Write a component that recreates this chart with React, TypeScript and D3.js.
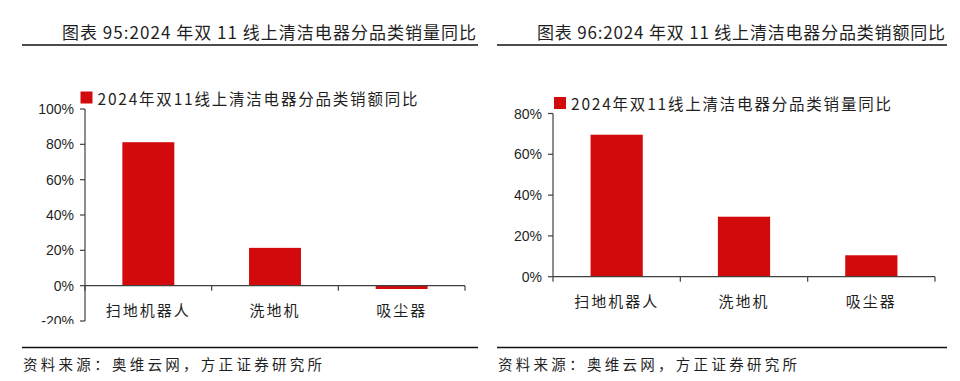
import React from "react";
import * as d3 from "d3";

const categories = ["扫地机器人", "洗地机", "吸尘器"];
const leftValues = [81.2, 21.4, -1.9];
const rightValues = [69.6, 29.4, 10.5];
const leftTicks = [-20, 0, 20, 40, 60, 80, 100];
const rightTicks = [0, 20, 40, 60, 80];
const leftTitle = "图表 95:2024 年双 11 线上清洁电器分品类销量同比";
const rightTitle = "图表 96:2024 年双 11 线上清洁电器分品类销额同比";
const leftLegend = "2024年双11线上清洁电器分品类销额同比";
const rightLegend = "2024年双11线上清洁电器分品类销量同比";
const sourceText = "资料来源：奥维云网，方正证券研究所";

const RED = "#d20a0b";
const AXIS = "#404040";
const TEXT = "#1f1f1f";
const CJK = "'Noto Sans CJK SC', sans-serif";
const NUM = "'Liberation Sans', Arial, sans-serif";

type PanelProps = {
  id: string;
  title: string;
  titleStart: number;
  titleEnd: number;
  lineX0: number;
  lineX1: number;
  legend: string;
  legendX: number;
  legendY: number;
  legendW: number;
  values: number[];
  ticks: number[];
  domain: [number, number];
  yRange: [number, number];
  xRange: [number, number];
  clipBottom: number;
};

function Panel(p: PanelProps) {
  const x = d3
    .scaleBand<string>()
    .domain(categories)
    .range(p.xRange)
    .paddingInner(0.59)
    .paddingOuter(0.295);
  const y = d3.scaleLinear().domain(p.domain).range(p.yRange);
  const step = x.step();
  const x0 = p.xRange[0];
  const zeroY = y(0);
  const boundaries = d3.range(categories.length + 1).map((i) => x0 + i * step);
  return (
    <g>
      <text
        x={p.titleStart}
        y={31}
        dominantBaseline="central"
        fontFamily={CJK}
        fontSize={17}
        fill={TEXT}
        textLength={p.titleEnd - p.titleStart}
        lengthAdjust="spacing"
      >
        {p.title}
      </text>
      <line x1={p.lineX0} x2={p.lineX1} y1={45} y2={45} stroke="#111" strokeWidth={1.6} />
      <line x1={p.lineX0} x2={p.lineX1} y1={347.5} y2={347.5} stroke="#111" strokeWidth={1.6} />
      <text
        x={p.lineX0 + 1}
        y={363}
        dominantBaseline="central"
        fontFamily={CJK}
        fontSize={14.5}
        fill={TEXT}
        textLength={299}
        lengthAdjust="spacing"
      >
        {sourceText}
      </text>

      <defs>
        <clipPath id={p.id}>
          <rect x={p.lineX0} y={50} width={p.lineX1 - p.lineX0} height={p.clipBottom - 50} />
        </clipPath>
      </defs>
      <g clipPath={`url(#${p.id})`}>
        <rect x={p.legendX} y={p.legendY - 6} width={12} height={12} fill={RED} />
        <text
          x={p.legendX + 17}
          y={p.legendY}
          dominantBaseline="central"
          fontFamily={CJK}
          fontSize={15.5}
          fill={TEXT}
          textLength={p.legendW}
          lengthAdjust="spacing"
        >
          {p.legend}
        </text>

        {categories.map((c, i) => {
          const v = p.values[i];
          const top = Math.min(y(v), zeroY);
          const h = Math.abs(y(v) - zeroY);
          return <rect key={c} x={x(c)} y={top} width={x.bandwidth()} height={h} fill={RED} />;
        })}

        <line x1={x0} x2={x0} y1={y(p.domain[0])} y2={y(p.domain[1])} stroke={AXIS} strokeWidth={1.2} />
        {p.ticks.map((t) => (
          <g key={t}>
            <line x1={x0 - 5} x2={x0} y1={y(t)} y2={y(t)} stroke={AXIS} strokeWidth={1.2} />
            <text
              x={x0 - 11}
              y={y(t)}
              textAnchor="end"
              dominantBaseline="central"
              fontFamily={NUM}
              fontSize={14}
              fill={TEXT}
            >
              {`${t}%`}
            </text>
          </g>
        ))}
        <line x1={x0} x2={p.xRange[1]} y1={zeroY} y2={zeroY} stroke={AXIS} strokeWidth={1.2} />
        {boundaries.map((b, i) => (
          <line key={i} x1={b} x2={b} y1={zeroY} y2={zeroY + 5} stroke={AXIS} strokeWidth={1.2} />
        ))}
        {categories.map((c) => (
          <text
            key={c}
            x={(x(c) as number) + x.bandwidth() / 2}
            y={zeroY + 23.5}
            textAnchor="middle"
            dominantBaseline="central"
            fontFamily={CJK}
            fontSize={15}
            fill={TEXT}
            letterSpacing={2}
          >
            {c}
          </text>
        ))}
      </g>
    </g>
  );
}

export default function App() {
  return (
    <svg
      width={960}
      height={381}
      style={{ position: "absolute", left: 0, top: 0, background: "#fff" }}
    >
      <rect width={960} height={381} fill="#fff" />
      <Panel
        id="clipL"
        title={leftTitle}
        titleStart={62}
        titleEnd={476}
        lineX0={22}
        lineX1={478}
        legend={leftLegend}
        legendX={80.5}
        legendY={97.5}
        legendW={320}
        values={leftValues}
        ticks={leftTicks}
        domain={[-20, 100]}
        yRange={[321, 109]}
        xRange={[85, 465]}
        clipBottom={324}
      />
      <Panel
        id="clipR"
        title={rightTitle}
        titleStart={537}
        titleEnd={945}
        lineX0={497}
        lineX1={947}
        legend={rightLegend}
        legendX={554}
        legendY={103}
        legendW={320}
        values={rightValues}
        ticks={rightTicks}
        domain={[0, 80]}
        yRange={[276.7, 113.5]}
        xRange={[553, 935]}
        clipBottom={340}
      />
    </svg>
  );
}
